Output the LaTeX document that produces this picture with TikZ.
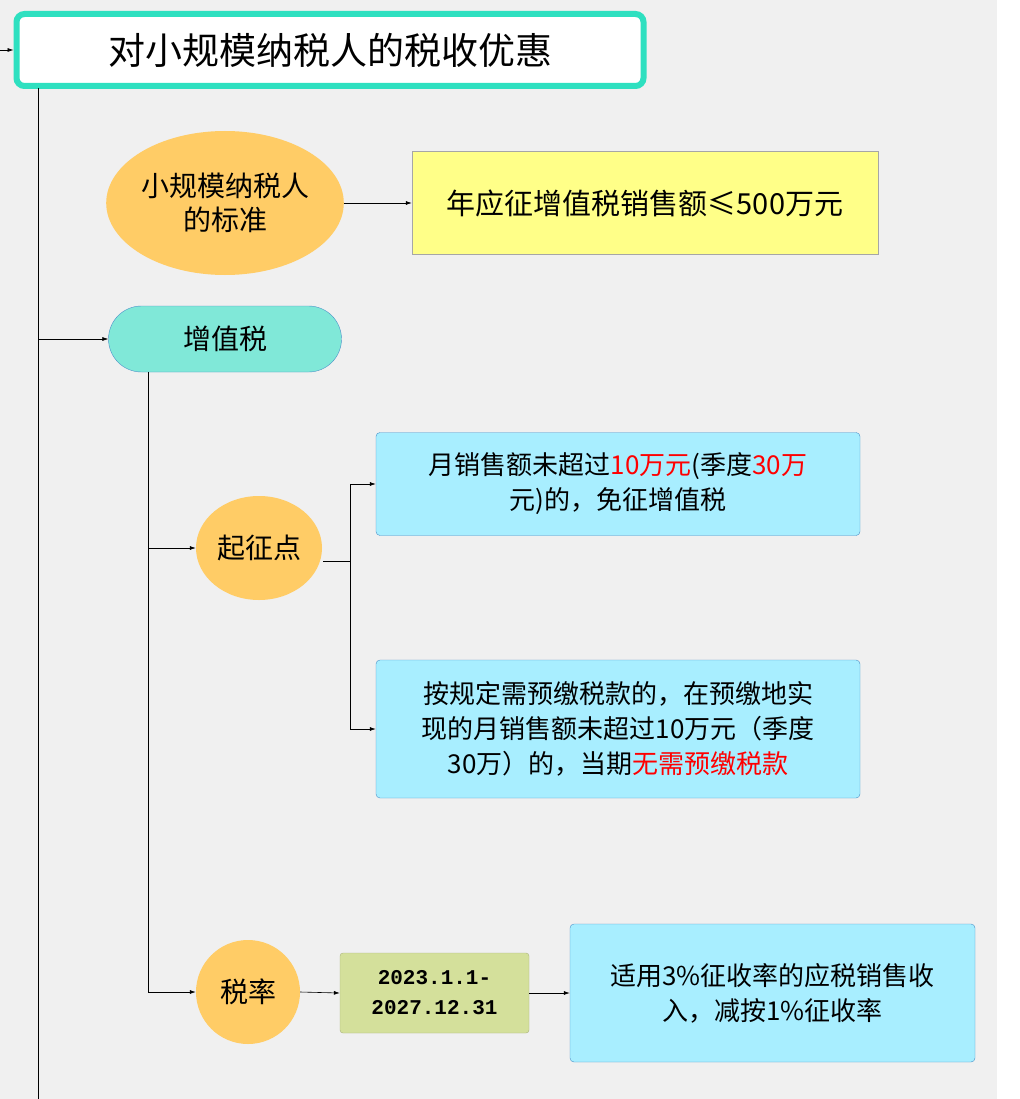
\documentclass[tikz,border=0pt]{standalone}
\usepackage{fontspec}
\setmainfont{Noto Sans CJK SC}
\newfontfamily\monof{Liberation Mono}
\usetikzlibrary{shapes.geometric,arrows.meta}
\definecolor{bg}{HTML}{F0F0F0}
\definecolor{teal}{HTML}{2EE0C0}
\definecolor{orn}{HTML}{FFCC66}
\definecolor{yel}{HTML}{FFFF88}
\definecolor{pill}{HTML}{80E8D8}
\definecolor{cyanb}{HTML}{A8EEFF}
\definecolor{grn}{HTML}{D4E09B}
\definecolor{bd}{HTML}{4A90C8}
\begin{document}
\begin{tikzpicture}[x=1pt,y=-1pt,
 arr/.style={-{Latex[length=6pt,width=4pt]},line width=0.6pt},
 ln/.style={line width=0.6pt},
 ell/.style={ellipse,fill=orn,draw=none,inner sep=0,align=center,font=\fontsize{28}{34}\selectfont},
 bx/.style={draw=bd,fill=cyanb,rounded corners=4pt,align=center,font=\fontsize{26}{35}\selectfont,inner sep=0}]
\fill[bg] (0,0) rectangle (997,1099);
\fill[white] (997,0) rectangle (1019,1099);
\useasboundingbox (0,0) rectangle (1019,1099);
\node[draw=teal,line width=6pt,fill=white,rounded corners=8pt,minimum width=627pt,minimum height=72pt,font=\fontsize{37}{42}\selectfont] (title) at (330,50) {对小规模纳税人的税收优惠};
\coordinate (l0) at (0,50);
\draw[arr] (l0) -- (title.west);
\coordinate (vt) at (38,88); \coordinate (vb) at (38,1099);
\draw[ln] (vt) -- (vb);
\node[ell,minimum width=230pt,minimum height=144pt] (e1) at (225,203) {小规模纳税人\\的标准};
\node[draw=gray!70,fill=yel,minimum width=466pt,minimum height=103pt,font=\fontsize{29}{34}\selectfont,inner sep=0] (y1) at (645,203) {年应征增值税销售额≤500万元};
\draw[arr] (e1.east) -- (y1.west);
\node[draw=bd,fill=pill,rounded corners=33pt,minimum width=233pt,minimum height=66pt,font=\fontsize{28}{34}\selectfont] (zz) at (225,339) {增值税};
\coordinate (a1) at (38,339);
\draw[arr] (a1) -- (zz.west);
\coordinate (v2t) at (148,372); \coordinate (v2b) at (148,992);
\draw[ln] (v2t) -- (v2b);
\node[ell,minimum width=126pt,minimum height=104pt] (qz) at (259,548) {起征点};
\coordinate (q1) at (148,548);
\draw[arr] (q1) -- (qz.west);
\node[bx,minimum width=484pt,minimum height=103pt] (b1) at (618,484) {月销售额未超过{\color{red}10万元}(季度{\color{red}30万}\\元)的，免征增值税};
\node[bx,minimum width=484pt,minimum height=138pt] (b2) at (618,729) {按规定需预缴税款的，在预缴地实\\现的月销售额未超过10万元（季度\\30万）的，当期{\color{red}无需预缴税款}};
\coordinate (j0) at (323,561); \coordinate (j1) at (350,561);
\coordinate (j2) at (350,484); \coordinate (j3) at (350,729);
\draw[ln] (j0) -- (j1);
\draw[ln] (j2) -- (j3);
\draw[arr] (j2) -- (b1.west);
\draw[arr] (j3) -- (b2.west);
\node[ell,minimum width=104pt,minimum height=104pt] (sl) at (248,992) {税率};
\coordinate (s1) at (148,992);
\draw[arr] (s1) -- (sl.west);
\node[fill=grn,draw=grn!80!black,rounded corners=3pt,minimum width=189pt,minimum height=80pt,align=center,font=\monof\bfseries\fontsize{21}{30}\selectfont,inner sep=0] (g) at (434.5,993) {2023.1.1-\\2027.12.31};
\draw[arr] (sl.east) -- (g.west);
\node[bx,minimum width=405pt,minimum height=138pt] (b3) at (772.5,993) {适用3\%征收率的应税销售收\\入，减按1\%征收率};
\draw[arr] (g.east) -- (b3.west);
\end{tikzpicture}
\end{document}
